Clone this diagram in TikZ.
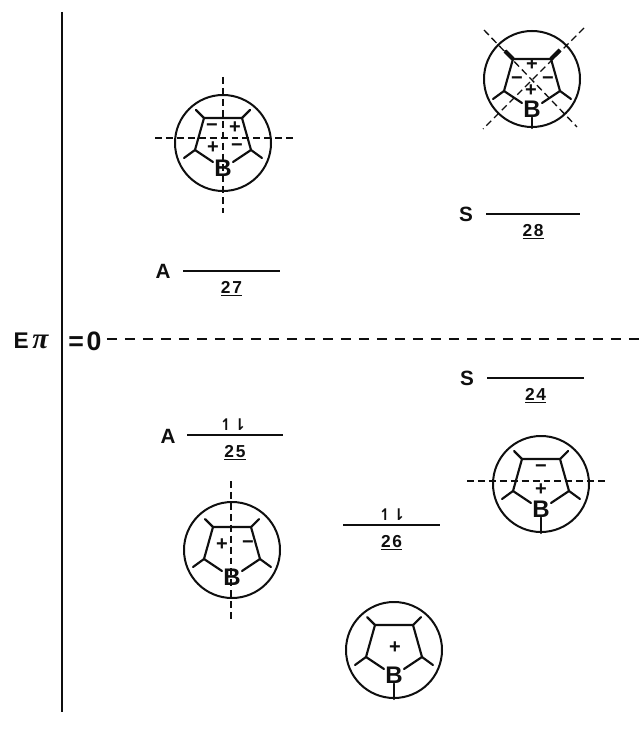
\documentclass[tikz,border=0pt]{standalone}
\usepackage{amsmath}
\usepackage{fontspec}
\setmainfont{Liberation Sans}
\newfontfamily\lblfont[LetterSpace=10]{Liberation Sans}
\newfontfamily\pifont{Liberation Serif}
\newfontfamily\arrfont{DejaVu Sans}
\usetikzlibrary{
  calc
}
\definecolor{ink}{RGB}{15,15,15}
\tikzset{
  bond/.style={ink,line width=1.6pt,line cap=round,line join=round},
  heavybond/.style={ink,line width=3pt},
  symline/.style={ink,line width=1pt,dash pattern=on 5.2pt off 3pt},
  zeroline/.style={ink,line width=1.3pt,dash pattern=on 7.5pt off 6pt},
  level/.style={ink,line width=1.6pt},
  chg/.style={font=\bfseries\fontsize{15}{15}\selectfont,text=ink,inner sep=0pt},
  boron/.style={font=\bfseries\fontsize{18}{18}\selectfont,text=ink,inner sep=0pt},
  symlbl/.style={font=\bfseries\fontsize{15.5}{15.5}\selectfont,text=ink,inner sep=0pt},
  numlbl/.style={font=\lblfont\bfseries\fontsize{13}{13}\selectfont,text=ink,inner sep=0pt},
  spinlbl/.style={font=\arrfont\bfseries\fontsize{12}{12}\selectfont,text=ink,inner sep=0pt}
}
% ring with its four substituents, #1 = name, (#2,#3) = centre of the circle, #4 = drop of the ring
\newcommand{\borole}[4]{%
  \node[circle,draw=ink,line width=1.5pt,minimum size=72pt,inner sep=0pt] (#1) at (#2,#3) {};%
  \node[boron] (#1B) at (#2,#3+25+#4) {B};%
  \draw[bond] (#2-10,#3+19+#4) -- (#2-28,#3+7+#4) -- (#2-19,#3-25+#4) -- (#2+19,#3-25+#4) -- (#2+28,#3+7+#4) -- (#2+10,#3+19+#4);%
  \draw[bond] (#2-19,#3-25+#4) -- (#2-27,#3-33+#4);%
  \draw[bond] (#2+19,#3-25+#4) -- (#2+27,#3-33+#4);%
  \draw[bond] (#2-28,#3+7+#4) -- (#2-39,#3+15+#4);%
  \draw[bond] (#2+28,#3+7+#4) -- (#2+39,#3+15+#4);%
}
% energy level, #1 = name, #2,#3 = ends, #4 = height, #5 = number
\newcommand{\molevel}[5]{%
  \coordinate (#1l) at (#2,#4);%
  \coordinate (#1r) at (#3,#4);%
  \draw[level] (#1l) -- (#1r);%
  \node[numlbl] (#1n) at ($(#1l)!0.5!(#1r)+(0,18)$) {\underline{#5}};%
}

\begin{document}
\begin{tikzpicture}[x=0.75pt,y=-0.75pt]
  \useasboundingbox (0,0) rectangle (642,741);

  % energy axis
  \coordinate (axt) at (62,12);
  \coordinate (axb) at (62,712);
  \draw[ink,line width=1.7pt] (axt) -- (axb);
  \node[font=\bfseries\fontsize{17}{17}\selectfont,text=ink,inner sep=0pt] (epi) at (31,341) {E\,{\pifont\bfseries\itshape\fontsize{22}{22}\selectfont π}};
  \node[font=\lblfont\bfseries\fontsize{20}{20}\selectfont,text=ink,inner sep=0pt] (zero) at (85,341) {=0};
  \coordinate (zr) at (642,339);
  \draw[zeroline] (zero.east |- zr) ++(5,0) -- (zr);

  % levels
  \molevel{m27}{183}{280}{271}{27}
  \molevel{m28}{486}{580}{214}{28}
  \molevel{m24}{487}{584}{378}{24}
  \molevel{m25}{187}{283}{435}{25}
  \molevel{m26}{343}{440}{525}{26}

  \node[symlbl] (s27) at (163,271) {A};
  \node[symlbl] (s28) at (466,214) {S};
  \node[symlbl] (s24) at (467,378) {S};
  \node[symlbl] (s25) at (168,436) {A};

  \node[spinlbl] (e25) at (233,425) {↿⇂};
  \node[spinlbl] (e26) at (392,515) {↿⇂};

  % orbital of 27
  \borole{oa}{223}{143}{0}
  \node[chg] (oa1) at (212,128) {−};
  \node[chg] (oa2) at (235,128) {+};
  \node[chg] (oa3) at (213,148) {+};
  \node[chg] (oa4) at (237,148) {−};
  \coordinate (oat) at (223,77);
  \coordinate (oab) at (223,213);
  \coordinate (oal) at (155,138);
  \coordinate (oar) at (293,138);
  \draw[symline] (oat) -- (oab);
  \draw[symline] (oal) -- (oar);

  % orbital of 28
  \borole{ob}{532}{79}{5}
  \node[chg] (ob1) at (532,65) {+};
  \node[chg] (ob2) at (517,81) {−};
  \node[chg] (ob3) at (548,81) {−};
  \node[chg] (ob4) at (531,91) {+};
  \draw[heavybond] (513,59) -- (505,51);
  \draw[heavybond] (551,59) -- (560,50);
  \draw[bond] (obB.south) -- (ob.south);
  \coordinate (ob1a) at (484,30);
  \coordinate (ob1b) at (577,127);
  \coordinate (ob2a) at (584,28);
  \coordinate (ob2b) at (483,129);
  \draw[symline] (ob1a) -- (ob1b);
  \draw[symline] (ob2a) -- (ob2b);

  % orbital of 25
  \borole{oc}{232}{550}{2}
  \node[chg] (oc1) at (222,545) {+};
  \node[chg] (oc2) at (248,545) {−};
  \coordinate (oct) at (231,481);
  \coordinate (ocb) at (231,622);
  \draw[symline] (oct) -- (ocb);

  % orbital of 24
  \borole{od}{541}{484}{0}
  \node[chg] (od1) at (541,469) {−};
  \node[chg] (od2) at (541,490) {+};
  \draw[bond] (odB.south) -- (od.south);
  \coordinate (odl) at (467,481);
  \coordinate (odr) at (608,481);
  \draw[symline] (odl) -- (odr);

  % orbital of 26
  \borole{oe}{394}{650}{0}
  \node[chg] (oe1) at (395,648) {+};
  \draw[bond] (oeB.south) -- (oe.south);

\end{tikzpicture}
\end{document}
